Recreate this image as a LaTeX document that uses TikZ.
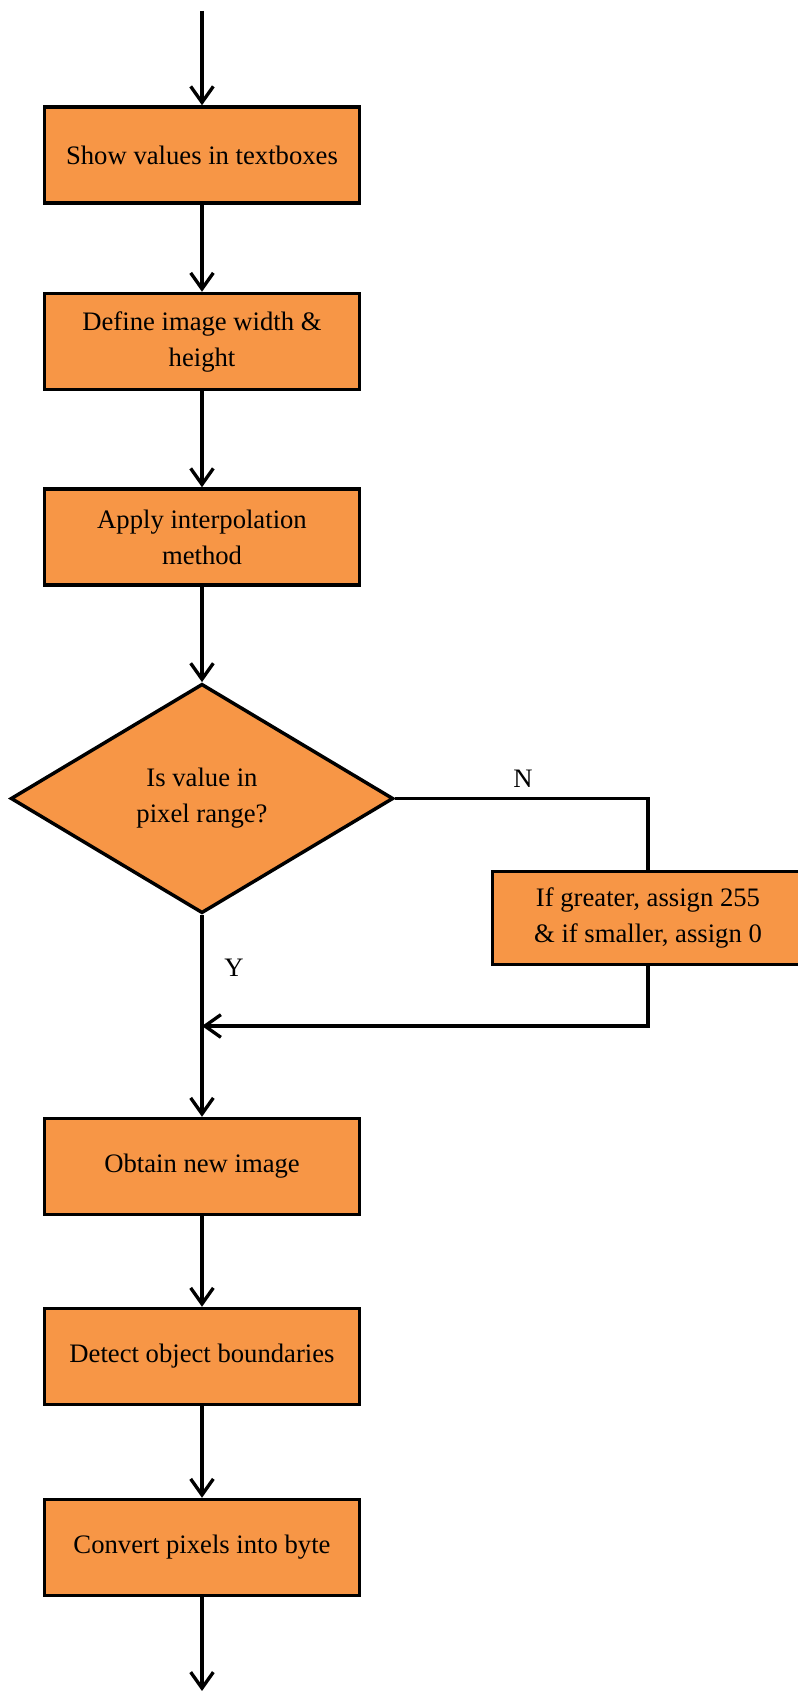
\documentclass[tikz,border=0pt]{standalone}
\usepackage{fontspec}
\setmainfont{Liberation Serif}
\usetikzlibrary{shapes.geometric,arrows.meta}
\definecolor{boxorange}{HTML}{F79646}
\tikzset{
  stepbox/.style={draw,line width=2.6pt,fill=boxorange,minimum width=236pt,
    minimum height=72pt,align=center,inner sep=2pt},
  decide/.style={draw,line width=2.6pt,fill=boxorange,diamond,minimum width=287pt,
    minimum height=172pt,align=center,inner sep=0pt},
  flow/.style={line width=2.5pt,-{Straight Barb[length=12pt,width=17pt,line width=2.5pt]}},
  plain/.style={line width=2.5pt}
}
\begin{document}
\begin{tikzpicture}[x=0.75pt,y=-0.75pt,font=\fontsize{20}{27}\selectfont]
      \useasboundingbox (0,0) rectangle (798,1691);
      \coordinate (start) at (202,11);
      \node[stepbox] (show) at (202,155) {Show values in textboxes};
      \node[stepbox] (define) at (202,341.5) {Define image width \&\\height};
      \node[stepbox] (interp) at (202,537) {Apply interpolation\\method};
      \node[decide] (range) at (202,798.5) {Is value in\\pixel range?};
      \node[stepbox,minimum width=233pt,minimum height=70pt] (clamp) at (648,918)
        {If greater, assign 255\\\& if smaller, assign 0};
      \coordinate (join) at (202,1026);
      \node[stepbox] (obtain) at (202,1166.5) {Obtain new image};
      \node[stepbox] (detect) at (202,1356.5) {Detect object boundaries};
      \node[stepbox] (convert) at (202,1547.5) {Convert pixels into byte};
      \coordinate (end) at (202,1691);
      \node (no) at (523,779) {N};
      \node (yes) at (234,968) {Y};
      \begin{scope}[flow]
        \draw (start) to (show);
        \draw (show) to (define);
        \draw (define) to (interp);
        \draw (interp) to (range);
        \draw (range) to (obtain);
        \draw (obtain) to (detect);
        \draw (detect) to (convert);
        \draw (convert) to (end);
        \draw (clamp.south) |- (join);
      \end{scope}
      \draw[plain] (range.east) -| (clamp.north);
    \end{tikzpicture}
\end{document}
